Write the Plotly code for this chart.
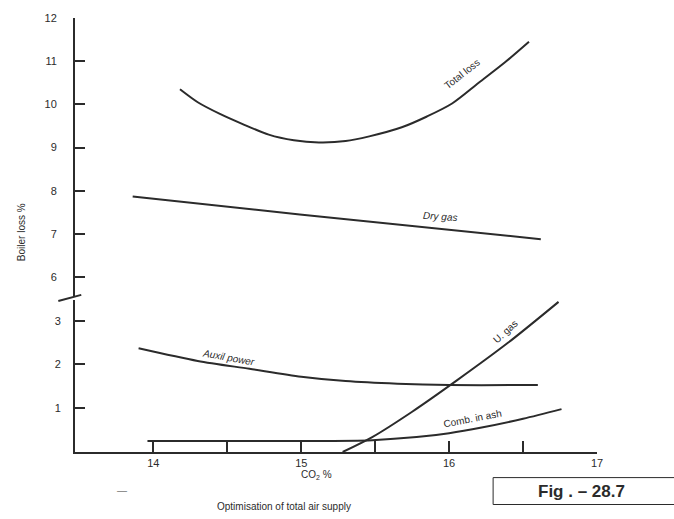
import plotly.graph_objects as go

# ---- data ----
co2_total = [14.18, 14.3, 14.45, 14.6, 14.78, 14.95, 15.12, 15.3, 15.46, 15.68, 15.85, 16.02, 16.2, 16.38, 16.54]
total_loss = [10.35, 10.05, 9.78, 9.55, 9.3, 9.17, 9.12, 9.15, 9.26, 9.47, 9.72, 10.02, 10.5, 10.98, 11.45]

co2_dry = [13.86, 14.99, 16.62]
dry_gas = [7.87, 7.45, 6.88]

co2_aux = [13.9, 14.3, 14.65, 15.0, 15.3, 15.65, 16.0, 16.6]
auxil_power = [2.37, 2.08, 1.9, 1.72, 1.62, 1.56, 1.53, 1.53]

co2_ugas = [15.28, 15.48, 15.75, 16.05, 16.4, 16.74]
u_gas = [0.0, 0.34, 0.92, 1.63, 2.5, 3.43]

co2_comb = [13.96, 15.0, 15.48, 15.78, 16.0, 16.22, 16.5, 16.76]
comb_ash = [0.25, 0.25, 0.27, 0.34, 0.43, 0.56, 0.76, 0.98]

x_tickvals = [14, 14.5, 15, 15.5, 16, 16.5, 17]
x_ticktext = ["14", "", "15", "", "16", "", "17"]
upper_ticks = [6, 7, 8, 9, 10, 11, 12]
lower_ticks = [1, 2, 3]

INK = "#2b2b2b"
FONT = "Liberation Sans, Arial, sans-serif"
line = dict(color=INK, width=2, shape="spline", smoothing=0.8)

fig = go.Figure()
fig.add_trace(go.Scatter(x=co2_total, y=total_loss, yaxis="y2", mode="lines", line=line, name="Total loss"))
fig.add_trace(go.Scatter(x=co2_dry, y=dry_gas, yaxis="y2", mode="lines", line=line, name="Dry gas"))
fig.add_trace(go.Scatter(x=co2_aux, y=auxil_power, mode="lines", line=line, name="Auxil power"))
fig.add_trace(go.Scatter(x=co2_ugas, y=u_gas, mode="lines", line=line, name="U. gas"))
fig.add_trace(go.Scatter(x=co2_comb, y=comb_ash, mode="lines", line=line, name="Comb. in ash"))

lab = dict(showarrow=False, xanchor="center", yanchor="middle", font=dict(family=FONT, size=10, color=INK))
fig.add_annotation(x=16.09, y=10.72, xref="x", yref="y2", text="Total loss", textangle=-38, **lab)
fig.add_annotation(x=15.94, y=7.40, xref="x", yref="y2", text="<i>Dry gas</i>", textangle=4, **lab)
fig.add_annotation(x=14.51, y=2.17, xref="x", yref="y", text="<i>Auxil power</i>", textangle=10, **lab)
fig.add_annotation(x=16.38, y=2.75, xref="x", yref="y", text="U. gas", textangle=-42, **lab)
fig.add_annotation(x=16.16, y=0.77, xref="x", yref="y", text="Comb. in ash", textangle=-11, **lab)

# axis titles and captions
cap = dict(showarrow=False, xanchor="center", yanchor="middle", xref="paper", yref="paper")
fig.add_annotation(x=-0.102, y=0.506, text="Boiler loss %", textangle=-90,
                   font=dict(family=FONT, size=10, color=INK), **cap)
fig.add_annotation(x=0.462, y=-0.054, text="CO<sub>2</sub> %",
                   font=dict(family=FONT, size=10, color=INK), **cap)
fig.add_annotation(x=0.090, y=-0.089, text="—",
                   font=dict(family=FONT, size=10, color="#777"), **cap)
fig.add_annotation(x=0.400, y=-0.125, text="Optimisation of total air supply",
                   font=dict(family=FONT, size=10, color=INK), **cap)
fig.add_annotation(x=0.971, y=-0.090, text="<b>Fig . – 28.7</b>",
                   font=dict(family=FONT, size=17, color=INK), **cap)
fig.add_shape(type="rect", xref="paper", yref="paper", x0=0.801, y0=-0.121, x1=1.16, y1=-0.059,
              line=dict(color=INK, width=1))

# axis break mark
fig.add_shape(type="line", xref="paper", yref="paper", x0=-0.032, y0=0.348, x1=0.012, y1=0.362,
              line=dict(color=INK, width=2))

axis_common = dict(showline=True, linecolor=INK, linewidth=2, ticks="inside", tickcolor=INK,
                   tickwidth=2, showgrid=False, zeroline=False,
                   tickfont=dict(family=FONT, size=11, color=INK))

fig.update_layout(
    width=674, height=519,
    margin=dict(l=75, r=77, t=13, b=67),
    paper_bgcolor="white", plot_bgcolor="white",
    showlegend=False,
    xaxis=dict(range=[13.47, 17.0], tickmode="array", tickvals=x_tickvals, ticktext=x_ticktext,
               ticklen=11, **axis_common),
    yaxis=dict(domain=[0, 0.351], range=[0, 3.48], tickmode="array", tickvals=lower_ticks,
               ticklen=10, ticklabelstandoff=10, **axis_common),
    yaxis2=dict(domain=[0.36, 1], range=[5.57, 12], tickmode="array", tickvals=upper_ticks,
                ticklen=10, ticklabelstandoff=14, anchor="x", **axis_common),
)

fig.write_html("out.html", config={"displayModeBar": False},
               post_script="document.body.style.margin='0';")
